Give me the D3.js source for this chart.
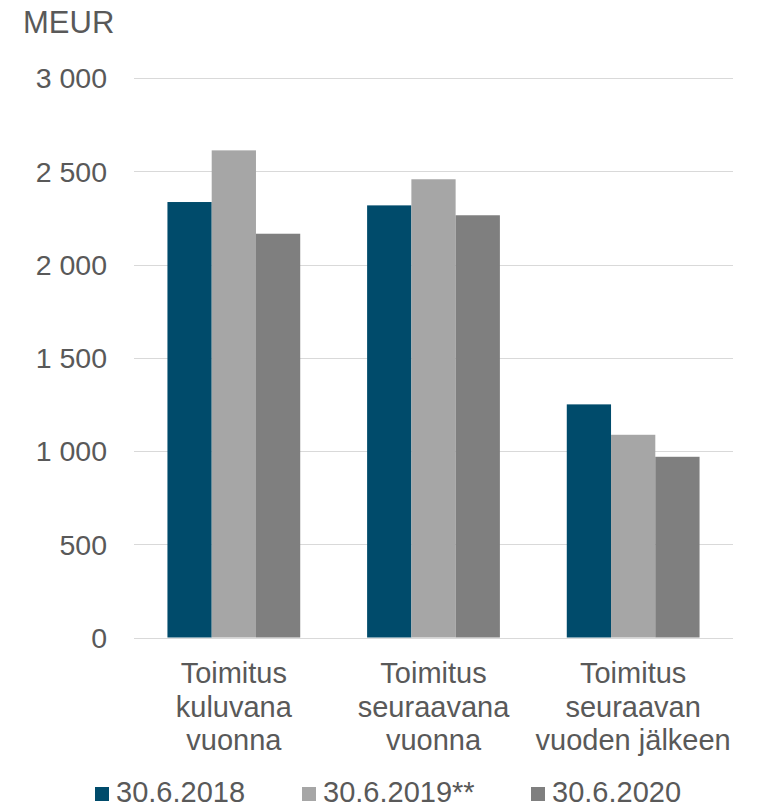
<!DOCTYPE html>
<html>
<head>
<meta charset="utf-8">
<script src="https://cdn.jsdelivr.net/npm/d3@7"></script>
<style>
  body { margin: 0; background: #fff; }
  svg text { font-family: "Liberation Sans", Arial, sans-serif; fill: #595959; }
</style>
</head>
<body>
<svg id="chart" width="759" height="806"></svg>
<script>
var width = 759;
var height = 806;

// data
var categories = ["kuluvana", "seuraavana", "jalkeen"];
var categoryLines = [
  ["Toimitus", "kuluvana", "vuonna"],
  ["Toimitus", "seuraavana", "vuonna"],
  ["Toimitus", "seuraavan", "vuoden jälkeen"]
];
var seriesNames = ["30.6.2018", "30.6.2019**", "30.6.2020"];
var seriesColors = ["#004B6B", "#A6A6A6", "#7F7F7F"];
var values2018 = [2335, 2317, 1250];
var values2019 = [2612, 2457, 1087];
var values2020 = [2165, 2264, 969];
var yTicks = [0, 500, 1000, 1500, 2000, 2500, 3000];

var seriesValues = [values2018, values2019, values2020];

var svg = d3.select("#chart");

var x0 = d3.scaleBand()
  .domain(categories)
  .range([134, 733])
  .paddingInner(0.335)
  .paddingOuter(0.1675);

var x1 = d3.scaleBand()
  .domain(seriesNames)
  .range([0, x0.bandwidth()]);

var y = d3.scaleLinear()
  .domain([0, 3000])
  .range([637.5, 78]);

var locale = d3.formatLocale({ decimal: ",", thousands: " ", grouping: [3], currency: ["", " €"] });
var fmt = locale.format(",");

//gridlines
svg.append("g")
  .selectAll("line")
  .data(yTicks)
  .enter()
  .append("line")
  .attr("x1", 134)
  .attr("x2", 733)
  .attr("y1", function(d) { return Math.round(y(d)) + 0.5; })
  .attr("y2", function(d) { return Math.round(y(d)) + 0.5; })
  .style("stroke", "#D9D9D9")
  .style("stroke-width", 1);

//y tick labels
svg.append("g")
  .selectAll("text")
  .data(yTicks)
  .enter()
  .append("text")
  .attr("x", 107)
  .attr("y", function(d) { return y(d); })
  .attr("dy", "0.36em")
  .attr("text-anchor", "end")
  .style("font-size", "28.5px")
  .text(function(d) { return fmt(d); });

svg.append("text")
  .attr("x", 23)
  .attr("y", 33)
  .style("font-size", "31px")
  .text("MEUR");

//bars
var groups = svg.append("g")
  .selectAll("g")
  .data(categories)
  .enter()
  .append("g")
  .attr("transform", function(d) { return "translate(" + x0(d) + ",0)"; });

groups.selectAll("rect")
  .data(function(d, i) {
    return seriesNames.map(function(s, j) { return { name: s, value: seriesValues[j][i], color: seriesColors[j] }; });
  })
  .enter()
  .append("rect")
  .attr("x", function(d) { return x1(d.name); })
  .attr("width", x1.bandwidth())
  .attr("y", function(d) { return y(d.value); })
  .attr("height", function(d) { return y(0) - y(d.value); })
  .style("fill", function(d) { return d.color; });

//category labels
var catLabels = svg.append("g")
  .selectAll("text")
  .data(categories)
  .enter()
  .append("text")
  .attr("text-anchor", "middle")
  .style("font-size", "29px");

catLabels.selectAll("tspan")
  .data(function(d, i) { return categoryLines[i].map(function(t) { return { t: t, c: d }; }); })
  .enter()
  .append("tspan")
  .attr("x", function(d) { return x0(d.c) + x0.bandwidth() / 2; })
  .attr("y", function(d, k) { return 683 + k * 33.5; })
  .text(function(d) { return d.t; });

//legend
var legendX = [95, 302, 531];
var legend = svg.append("g")
  .selectAll("g")
  .data(seriesNames)
  .enter()
  .append("g")
  .attr("transform", function(d, i) { return "translate(" + legendX[i] + ",0)"; });

legend.append("rect")
  .attr("x", 0)
  .attr("y", 787)
  .attr("width", 14)
  .attr("height", 14)
  .style("fill", function(d, i) { return seriesColors[i]; });

legend.append("text")
  .attr("x", 21)
  .attr("y", 801.5)
  .style("font-size", "29px")
  .text(function(d) { return d; });
</script>
</body>
</html>
